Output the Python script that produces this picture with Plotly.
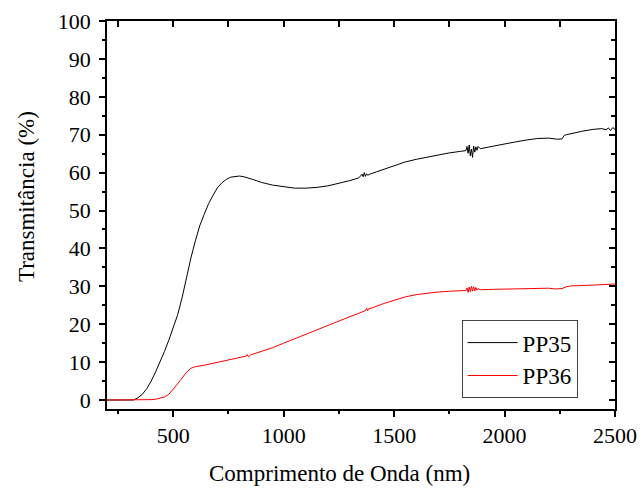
import plotly.graph_objects as go

# Transmittance spectra (wavelength in nm, transmittance in %)
wl_pp35 = [200, 250, 300, 320, 340, 360, 380, 400, 420, 440,
           460, 480, 500, 520, 540, 560, 580, 600, 620, 640,
           660, 680, 700, 720, 740, 760, 780, 800, 820, 840,
           860, 880, 900, 950, 1000, 1050, 1100, 1150, 1200, 1250,
           1300, 1340, 1355, 1360, 1365, 1370, 1375, 1380, 1390, 1420,
           1460, 1500, 1550, 1600, 1650, 1700, 1750, 1800, 1825, 1830,
           1835, 1840, 1845, 1850, 1855, 1860, 1865, 1870, 1875, 1880,
           1890, 1950, 2000, 2050, 2100, 2150, 2200, 2220, 2240, 2260,
           2270, 2280, 2300, 2350, 2400, 2440, 2460, 2470, 2480, 2490,
           2500]
t_pp35 = [0, 0, 0, 0, 0.6, 1.5, 3, 5, 7.4, 10,
          12.8, 15.8, 19, 22.5, 27, 32.5, 37.5, 42, 46, 49,
          51.8, 54, 56, 57.3, 58.2, 58.8, 59, 59.1, 58.9, 58.6,
          58.2, 57.8, 57.4, 56.7, 56.2, 55.9, 55.9, 56.1, 56.5, 57.1,
          57.9, 58.6, 59.6, 58.9, 60.0, 59.0, 59.7, 59.3, 59.6, 60.2,
          61.0, 61.9, 62.8, 63.5, 64.1, 64.7, 65.2, 65.6, 65.8, 66.9,
          65.1, 67.3, 64.4, 66.2, 64.0, 67.0, 65.4, 66.8, 65.9, 66.9,
          66.3, 67.0, 67.6, 68.1, 68.6, 69.0, 69.1, 69.0, 68.8, 68.9,
          69.8, 70.0, 70.3, 70.9, 71.4, 71.6, 71.3, 71.8, 71.1, 71.9,
          71.4]

wl_pp36 = [200, 300, 400, 420, 440, 460, 480, 500, 520, 540,
           560, 580, 600, 650, 700, 750, 800, 830, 835, 840,
           850, 900, 950, 1000, 1050, 1100, 1150, 1200, 1250, 1300,
           1350, 1370, 1375, 1380, 1385, 1400, 1450, 1500, 1550, 1600,
           1650, 1700, 1750, 1800, 1825, 1830, 1835, 1840, 1845, 1850,
           1855, 1860, 1865, 1870, 1875, 1880, 1890, 1950, 2000, 2050,
           2100, 2150, 2200, 2230, 2260, 2280, 2300, 2350, 2400, 2450,
           2500]
t_pp36 = [0, 0, 0.1, 0.2, 0.4, 0.8, 1.5, 2.8, 4.3, 5.8,
          7.3, 8.4, 8.8, 9.3, 9.9, 10.5, 11.2, 11.6, 12.0, 11.4,
          11.9, 12.8, 13.8, 15.0, 16.2, 17.4, 18.6, 19.7, 20.9, 22.0,
          23.1, 23.6, 24.2, 23.5, 24.1, 24.3, 25.4, 26.4, 27.2, 27.8,
          28.2, 28.5, 28.7, 28.8, 28.9, 29.6, 28.4, 29.8, 28.6, 30.0,
          28.7, 29.9, 28.8, 29.7, 29.0, 29.4, 29.1, 29.2, 29.3, 29.4,
          29.5, 29.5, 29.5, 29.3, 29.4, 29.9, 30.1, 30.2, 30.4, 30.5,
          30.6]

x_range = [200, 2500]
y_range = [-2.37, 100]
x_ticks = [500, 1000, 1500, 2000, 2500]
y_ticks = [0, 10, 20, 30, 40, 50, 60, 70, 80, 90, 100]
x_title = "Comprimento de Onda (nm)"
y_title = "Transmitância (%)"

FONT = "Times New Roman"

fig = go.Figure()
fig.add_trace(go.Scatter(x=wl_pp35, y=t_pp35, mode="lines", name="PP35",
                         line=dict(color="#000000", width=1)))
fig.add_trace(go.Scatter(x=wl_pp36, y=t_pp36, mode="lines", name="PP36",
                         line=dict(color="#ff0000", width=1)))

axis_common = dict(showgrid=False, zeroline=False, linecolor="black",
                   linewidth=1.5, tickcolor="black", tickwidth=1.5,
                   automargin=False,
                   tickfont=dict(family=FONT, size=22, color="black"))

fig.update_layout(
    width=641, height=490,
    margin=dict(l=107, r=26, t=21, b=81, autoexpand=False),
    paper_bgcolor="white", plot_bgcolor="white",
    font=dict(family=FONT, color="black"),
    showlegend=True,
    legend=dict(x=0.698, y=0.229, xanchor="left", yanchor="top",
                bordercolor="#444444", borderwidth=1, bgcolor="white",
                font=dict(family=FONT, size=23, color="black"),
                tracegroupgap=0, itemwidth=50),
    xaxis=dict(range=x_range, tickvals=x_ticks, ticks="outside", ticklen=6,
               mirror=True, showline=True,
               minor=dict(dtick=250, tick0=0, ticks="outside", ticklen=3,
                          tickcolor="black", tickwidth=1.5),
               **axis_common),
    yaxis=dict(range=y_range, tickvals=y_ticks, ticks="outside", ticklen=6,
               mirror=True, showline=True, ticklabelstandoff=4,
               minor=dict(dtick=5, tick0=0, ticks="outside", ticklen=3,
                          tickcolor="black", tickwidth=1.5),
               **axis_common),
    # inward ticks on the top and right frame edges
    xaxis2=dict(overlaying="x", side="top", range=x_range, tickvals=x_ticks,
                ticks="inside", ticklen=6, showticklabels=False,
                showgrid=False, zeroline=False, showline=False,
                tickcolor="black", tickwidth=1.5, automargin=False,
                minor=dict(dtick=250, tick0=0, ticks="inside", ticklen=6,
                           tickcolor="black", tickwidth=1.5)),
    yaxis2=dict(overlaying="y", side="right", range=y_range, tickvals=y_ticks,
                ticks="inside", ticklen=6, showticklabels=False,
                showgrid=False, zeroline=False, showline=False,
                tickcolor="black", tickwidth=1.5, automargin=False,
                minor=dict(dtick=5, tick0=0, ticks="inside", ticklen=4,
                           tickcolor="black", tickwidth=1.5)),
    annotations=[
        dict(text=x_title, xref="paper", yref="paper", x=0.457, y=-0.165,
             xanchor="center", yanchor="middle", showarrow=False,
             font=dict(family=FONT, size=23, color="black")),
        dict(text=y_title, xref="paper", yref="paper", x=-0.158, y=0.548,
             xanchor="center", yanchor="middle", showarrow=False,
             textangle=-90, font=dict(family=FONT, size=23, color="black")),
    ],
)

# invisible helper trace so the top/right axes are drawn
fig.add_trace(go.Scatter(x=[x_range[0]], y=[y_range[0]], xaxis="x2", yaxis="y2",
                         mode="markers", marker=dict(opacity=0),
                         showlegend=False, hoverinfo="skip"))

fig.write_html("out.html")
